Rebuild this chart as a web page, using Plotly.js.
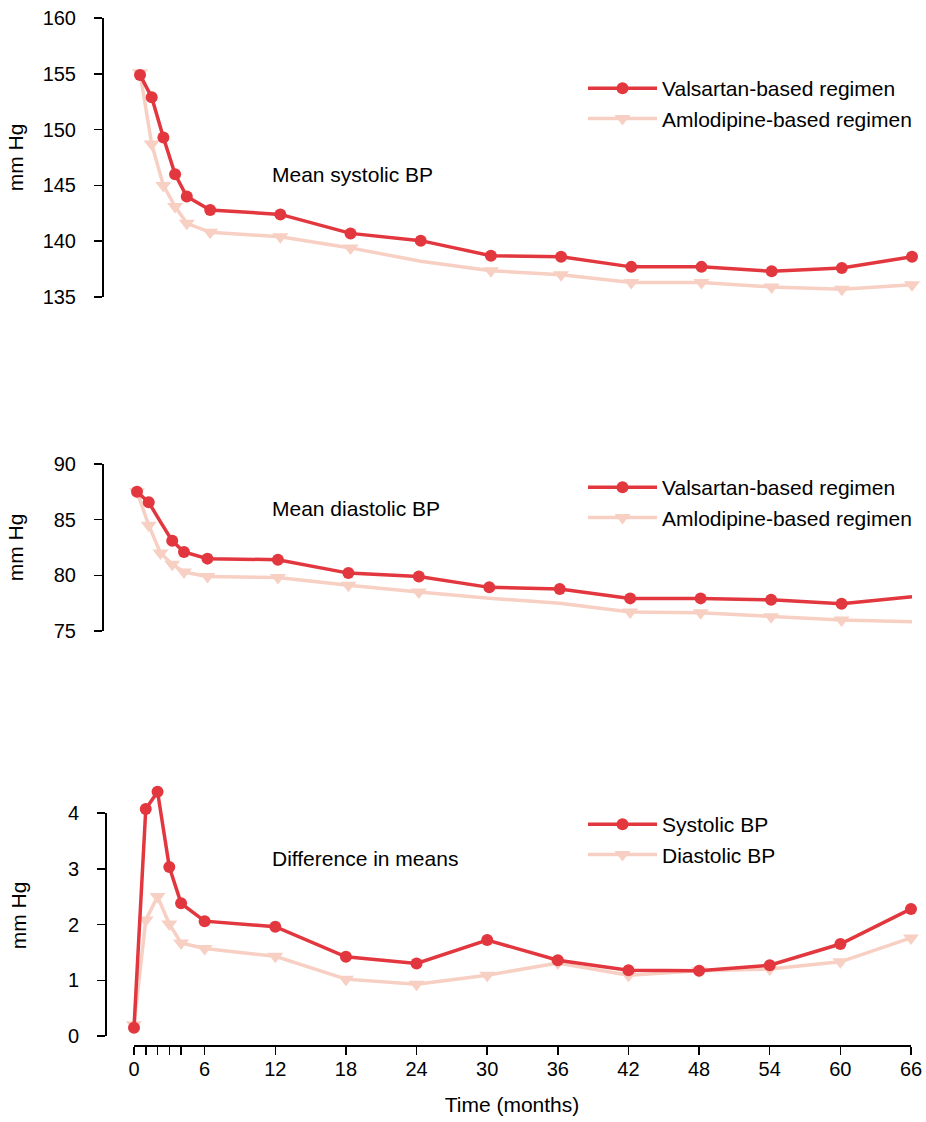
<!DOCTYPE html>
<html>
<head>
<meta charset="utf-8">
<script src="https://cdn.plot.ly/plotly-3.0.1.min.js"></script>
<style>html,body{margin:0;padding:0;background:#fff;}#chart{width:926px;height:1122px;}</style>
</head>
<body>
<div id="chart"></div>
<script>
// ---- data ----
const months = [0, 1, 2, 3, 4, 6, 12, 18, 24, 30, 36, 42, 48, 54, 60, 66];
const xTickVals = [0, 1, 2, 3, 4, 6, 12, 18, 24, 30, 36, 42, 48, 54, 60, 66];
const xTickText = ['0', '', '', '', '', '6', '12', '18', '24', '30', '36', '42', '48', '54', '60', '66'];

const sysValsartan  = [154.9, 152.9, 149.3, 146.0, 144.0, 142.8, 142.4, 140.7, 140.05, 138.7, 138.6, 137.7, 137.7, 137.3, 137.6, 138.6];
const sysAmlodipine = [155.1, 148.7, 145.0, 143.1, 141.6, 140.8, 140.4, 139.4, 138.2, 137.35, 137.0, 136.3, 136.3, 135.9, 135.7, 136.1];
const diaValsartan  = [87.5, 86.56, 84.8, 83.1, 82.1, 81.5, 81.4, 80.2, 79.9, 78.92, 78.77, 77.93, 77.93, 77.8, 77.45, 78.08];
const diaAmlodipine = [87.5, 84.5, 82.0, 81.0, 80.3, 79.9, 79.8, 79.1, 78.5, 77.95, 77.5, 76.7, 76.64, 76.28, 75.98, 75.83];
const diffSystolic  = [0.15, 4.07, 4.38, 3.03, 2.38, 2.06, 1.96, 1.42, 1.30, 1.72, 1.36, 1.18, 1.17, 1.27, 1.65, 2.28];
const diffDiastolic = [0.2, 2.08, 2.5, 2.01, 1.67, 1.57, 1.43, 1.02, 0.93, 1.09, 1.31, 1.09, 1.17, 1.2, 1.33, 1.76];

// which points show a marker in the original (1 = shown)
const sysValShown  = [1,1,1,1,1,1,1,1,1,1,1,1,1,1,1,1];
const sysAmloShown = [1,1,1,1,1,1,1,1,0,1,1,1,1,1,1,1];
const diaValShown  = [1,1,0,1,1,1,1,1,1,1,1,1,1,1,1,0];
const diaAmloShown = [1,1,1,1,1,1,1,1,1,0,0,1,1,1,1,0];
const diffSysShown = [1,1,1,1,1,1,1,1,1,1,1,1,1,1,1,1];
const diffDiaShown = [1,1,1,1,1,1,1,1,1,1,1,1,1,1,1,1];

const yTicksSys  = [135, 140, 145, 150, 155, 160];
const yTicksDia  = [75, 80, 85, 90];
const yTicksDiff = [0, 1, 2, 3, 4];

const seriesNames = {
  val: 'Valsartan-based regimen',
  aml: 'Amlodipine-based regimen',
  sys: 'Systolic BP',
  dia: 'Diastolic BP'
};
const panelLabels = ['Mean systolic BP', 'Mean diastolic BP', 'Difference in means'];

// ---- style ----
const RED = '#E2373E';
const PINK = '#F7CFC3';
const FONT = '"Liberation Sans", Arial, Helvetica, sans-serif';
const FS = 21;
const TFS = 20;

function colors(shown, c) { return shown.map(v => v ? c : 'rgba(0,0,0,0)'); }

function mk(x, y, name, color, symbol, shown, xa, ya, legend) {
  return {
    x: x, y: y, name: name, type: 'scatter', mode: 'lines+markers',
    xaxis: xa, yaxis: ya, legend: legend, showlegend: true,
    line: {color: color, width: 3.5},
    marker: {color: colors(shown, color), symbol: symbol, opacity: 1, size: symbol === 'circle' ? 12 : 14, line: {width: 0}},
    cliponaxis: false, hoverinfo: 'skip'
  };
}

const traces = [
  mk(months, sysAmlodipine, seriesNames.aml, PINK, 'triangle-down', sysAmloShown, 'x', 'y', 'legend'),
  mk(months, sysValsartan, seriesNames.val, RED, 'circle', sysValShown, 'x', 'y', 'legend'),
  mk(months, diaAmlodipine, seriesNames.aml, PINK, 'triangle-down', diaAmloShown, 'x2', 'y2', 'legend2'),
  mk(months, diaValsartan, seriesNames.val, RED, 'circle', diaValShown, 'x2', 'y2', 'legend2'),
  mk(months, diffDiastolic, seriesNames.dia, PINK, 'triangle-down', diffDiaShown, 'x3', 'y3', 'legend3'),
  mk(months, diffSystolic, seriesNames.sys, RED, 'circle', diffSysShown, 'x3', 'y3', 'legend3')
];

// ---- geometry (pixels) ----
const W = 926, H = 1122;
const mL = 104, mR = W - 918, mT = 10, mB = H - 1046;
const PW = W - mL - mR, PH = H - mT - mB;
const py = p => (H - mB - p) / PH;      // pixel y -> paper
const px = p => (p - mL) / PW;          // pixel x -> paper

function xr(leftPx, zeroPx, pxPerMonth) {
  return [(leftPx - zeroPx) / pxPerMonth, (918 - zeroPx) / pxPerMonth];
}

const txtFont = {family: FONT, size: FS, color: '#000'};
const tickFont = {family: FONT, size: TFS, color: '#000'};
const yCommon = {
  showgrid: false, zeroline: false, ticks: 'outside', ticklen: 8, tickwidth: 1.5,
  tickcolor: '#000', tickfont: tickFont, ticklabelstandoff: 14, fixedrange: true
};
const xHidden = {visible: false, showgrid: false, zeroline: false, fixedrange: true};

function legendAt(topPx) {
  return {x: px(583), y: py(topPx), xanchor: 'left', yanchor: 'top', traceorder: 'reversed',
          bgcolor: 'rgba(0,0,0,0)', font: txtFont, itemwidth: 69, tracegroupgap: 0};
}

const layout = {
  width: W, height: H,
  margin: {l: mL, r: mR, t: mT, b: mB},
  paper_bgcolor: '#fff', plot_bgcolor: '#fff',
  font: txtFont,
  xaxis: Object.assign({}, xHidden, {anchor: 'y', domain: [0, 1], range: xr(104, 140, 772 / 66)}),
  xaxis2: Object.assign({}, xHidden, {anchor: 'y2', domain: [0, 1], range: xr(104, 137, 775 / 66)}),
  xaxis3: {
    anchor: 'y3', domain: [px(106), 1], range: xr(106, 134, 777 / 66),
    showgrid: false, zeroline: false, showline: false,
    ticks: 'outside', ticklen: 8, tickwidth: 1.5, tickcolor: '#000',
    tickvals: xTickVals, ticktext: xTickText, tickfont: tickFont, ticklabelstandoff: -3,
    title: {text: 'Time (months)', font: txtFont, standoff: 18}, fixedrange: true
  },
  yaxis: Object.assign({}, yCommon, {
    anchor: 'x', domain: [py(297), py(18)], range: [yTicksSys[0], yTicksSys[yTicksSys.length - 1]],
    tickvals: yTicksSys, showline: true, linewidth: 2, linecolor: '#000',
    title: {text: 'mm Hg', font: txtFont, standoff: 13}
  }),
  yaxis2: Object.assign({}, yCommon, {
    anchor: 'x2', domain: [py(631), py(464)], range: [yTicksDia[0], yTicksDia[yTicksDia.length - 1]],
    tickvals: yTicksDia, showline: true, linewidth: 2, linecolor: '#000',
    title: {text: 'mm Hg', font: txtFont, standoff: 24}
  }),
  yaxis3: Object.assign({}, yCommon, {
    anchor: 'x3', domain: [0, py(785)], range: [-10 / 55.75, (1036 - 785) / 55.75],
    tickvals: yTicksDiff, showline: false,
    title: {text: 'mm Hg', font: txtFont, standoff: 35}
  }),
  shapes: [
    {type: 'line', xref: 'x3', yref: 'paper', x0: xTickVals[0], x1: xTickVals[xTickVals.length - 1], y0: 0, y1: 0,
     line: {color: '#000', width: 2}},
    {type: 'line', xref: 'x3 domain', yref: 'y3', x0: 0, x1: 0, y0: yTicksDiff[0], y1: yTicksDiff[yTicksDiff.length - 1],
     line: {color: '#000', width: 2}}
  ],
  annotations: [
    {text: panelLabels[0], xref: 'paper', yref: 'paper', x: px(270), y: py(174), xanchor: 'left', yanchor: 'middle', showarrow: false, font: txtFont},
    {text: panelLabels[1], xref: 'paper', yref: 'paper', x: px(270), y: py(508), xanchor: 'left', yanchor: 'middle', showarrow: false, font: txtFont},
    {text: panelLabels[2], xref: 'paper', yref: 'paper', x: px(270), y: py(858), xanchor: 'left', yanchor: 'middle', showarrow: false, font: txtFont}
  ],
  legend: legendAt(68),
  legend2: legendAt(467),
  legend3: legendAt(804),
  showlegend: true
};

Plotly.newPlot('chart', traces, layout, {displayModeBar: false, staticPlot: true});
</script>
</body>
</html>
